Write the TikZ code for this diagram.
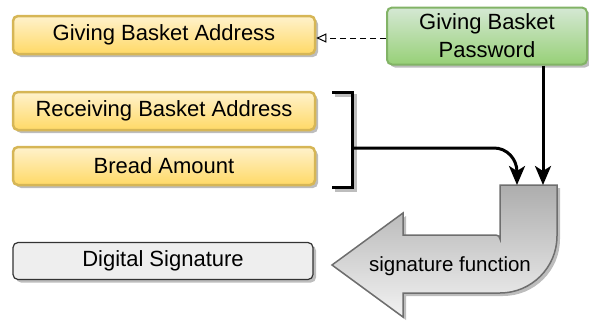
\documentclass[tikz,border=0pt]{standalone}
\usepackage{fontspec}
\setmainfont{Liberation Sans}
\usetikzlibrary{arrows.meta,shadows}
\definecolor{yfill1}{HTML}{FFF2CC}
\definecolor{yfill2}{HTML}{FFD966}
\definecolor{ystroke}{HTML}{D6B656}
\definecolor{gfill1}{HTML}{D5E8D4}
\definecolor{gfill2}{HTML}{97D077}
\definecolor{gstroke}{HTML}{82B366}
\definecolor{shd}{HTML}{BDBDBD}
\definecolor{grayfill}{HTML}{EEEEEE}
\definecolor{graystroke}{HTML}{333333}
\definecolor{arrtop}{HTML}{ADADAD}
\definecolor{arrbot}{HTML}{F2F2F2}
\definecolor{arrstroke}{HTML}{6E6E6E}
\tikzset{
  shd/.style={drop shadow={shadow xshift=3pt,shadow yshift=-3pt,fill=shd,opacity=1}},
  ybox/.style={rounded corners=5pt,draw=ystroke,line width=2.5pt,top color=yfill1,bottom color=yfill2,
    minimum width=302pt,minimum height=38pt,inner sep=0pt,shd,font=\fontsize{22}{26}\selectfont},
  gbox/.style={rounded corners=5pt,draw=gstroke,line width=2pt,top color=gfill1,bottom color=gfill2,
    minimum width=200pt,minimum height=57pt,inner sep=0pt,shd,align=center,font=\fontsize{22}{28}\selectfont},
  sbox/.style={rounded corners=5pt,draw=graystroke,line width=1.2pt,fill=grayfill,
    minimum width=300pt,minimum height=37pt,inner sep=0pt,shd,font=\fontsize{22}{26}\selectfont},
  conn/.style={line width=3pt,-{Stealth[length=19pt,width=16pt,inset=5pt]}},
  bracketline/.style={line width=3pt},
}
\begin{document}
\begin{tikzpicture}[x=1pt,y=-1pt]
\useasboundingbox (0,0) rectangle (589,322);
% big U-turn arrow
\coordinate (a1) at (500,185);
\coordinate (a2) at (557,185);
\coordinate (a3) at (557,236);
\coordinate (a4) at (403,293);
\coordinate (a5) at (403,317);
\coordinate (tip) at (332,265);
\coordinate (a6) at (403,213);
\coordinate (a7) at (403,235);
\coordinate (a8) at (496,235);
\path[draw=arrstroke,line width=1.5pt,top color=arrtop,bottom color=arrbot,shd]
  (a1) -- (a2) -- (a3) arc[start angle=0,end angle=-90,radius=57pt] -- (a4) -- (a5) -- (tip) -- (a6) -- (a7) -- (a8)
  arc[start angle=90,end angle=0,radius=4pt] -- cycle;
\node[font=\fontsize{20.5}{24}\selectfont] (sf) at (450,266) {signature function};

% boxes
\node[ybox] (gba) at (164,35) {Giving Basket Address};
\node[ybox] (rba) at (164,111) {Receiving Basket Address};
\node[ybox] (bread) at (164,166) {Bread Amount};
\node[gbox] (pwd) at (487,36) {Giving Basket\\Password};
\node[sbox] (dsig) at (163,261) {Digital Signature};

% dashed arrow
\draw[dashed,dash pattern=on 6pt off 4pt,line width=1pt,-{Triangle[open,length=10pt,width=9pt]}]
  (pwd.west |- 0,38) -- (gba.east |- 0,38);

% bracket
\coordinate (b1) at (332,92);
\coordinate (b2) at (352,92);
\coordinate (b3) at (352,187);
\coordinate (b4) at (332,187);
\coordinate (bm) at (352,148);
\draw[bracketline,draw=shd] ([shift={(3,3)}]b1) -- ([shift={(3,3)}]b2) -- ([shift={(3,3)}]b3) -- ([shift={(3,3)}]b4);
\draw[bracketline] (b1) -- (b2) -- (b3) -- (b4);

% arrows into the function
\coordinate (fin1) at (517,185);
\coordinate (fin2) at (543,185);
\coordinate (c1) at (494,148);
\draw[conn] (bm) -- (c1) to[out=0,in=90] (517,172) -- (fin1);
\draw[conn] (pwd.south -| fin2) -- (fin2);
\end{tikzpicture}
\end{document}
